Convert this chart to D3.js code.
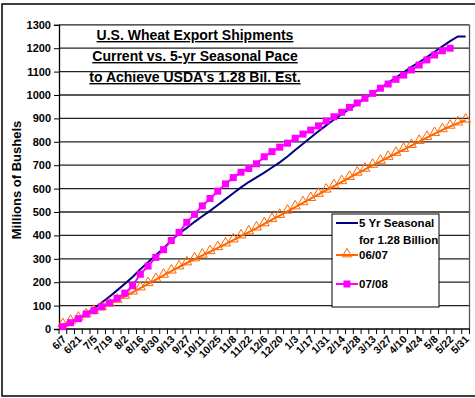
<!DOCTYPE html>
<html>
<head>
<meta charset="utf-8">
<script src="https://cdn.jsdelivr.net/npm/d3@7"></script>
<style>
  body { margin: 0; background: #fff; }
  svg { display: block; font-family: "Liberation Sans", Arial, sans-serif; }
</style>
</head>
<body>
<svg id="chart" width="475" height="398"></svg>
<script>
// weekly dates, Jun 2007 - May 2008
const weeks = ["6/7","6/14","6/21","6/28","7/5","7/12","7/19","7/26","8/2","8/9","8/16","8/23","8/30",
  "9/6","9/13","9/20","9/27","10/4","10/11","10/18","10/25","11/1","11/8","11/15","11/22","11/29",
  "12/6","12/13","12/20","12/27","1/3","1/10","1/17","1/24","1/31","2/7","2/14","2/21","2/28",
  "3/6","3/13","3/20","3/27","4/3","4/10","4/17","4/24","5/1","5/8","5/15","5/22","5/29","5/31"];

const seasonal = [8,25,45,65,88,112,138,165,193,222,255,285,315,345,378,408,432,458,482,505,530,555,
  580,605,628,648,668,690,712,737,765,792,818,845,870,895,918,940,962,985,1007,1030,1052,1075,1097,
  1120,1140,1162,1185,1208,1230,1250,1250];

const y0607 = [18,32,46,60,75,90,106,122,139,157,175,193,211,229,247,265,282,299,315,330,347,363,
  380,397,414,431,449,467,485,503,521,539,557,575,593,611,629,647,665,682,699,716,733,750,767,784,
  801,818,835,851,866,880,892];

const y0708 = [10,27,44,64,78,95,112,131,153,185,234,269,306,339,378,413,456,490,526,558,589,620,
  647,670,686,706,736,758,777,794,815,833,850,868,889,907,926,947,966,986,1007,1029,1047,1067,1085,
  1107,1128,1150,1171,1189,1200];

const yTicks = d3.range(0, 1301, 100);
const titleLines = ["U.S. Wheat Export Shipments", "Current vs. 5-yr Seasonal Pace", "to Achieve USDA's 1.28 Bil. Est."];

const svg = d3.select("#chart");
const L = 59, R = 469.5, T = 24.8, B = 329;

const x = d3.scaleBand().domain(weeks).range([L, R]).padding(0);
const y = d3.scaleLinear().domain([0, 1300]).range([B, T]);
const cx = d => x(d) + x.bandwidth() / 2;

// outer frame
svg.append("rect").attr("x", 2).attr("y", 4).attr("width", 490).attr("height", 392)
   .attr("fill", "none").attr("stroke", "#000").attr("stroke-width", 1.5);

// gridlines
svg.append("g").selectAll("line").data(yTicks.filter(v => v > 0)).enter().append("line")
   .attr("x1", L).attr("x2", R).attr("y1", d => y(d)).attr("y2", d => y(d))
   .attr("stroke", "#222").attr("stroke-width", 1.3);

// plot border right
svg.append("line").attr("x1", R).attr("x2", R).attr("y1", T).attr("y2", B)
   .attr("stroke", "#555").attr("stroke-width", 1.3);

// y axis
const yAxis = svg.append("g").attr("transform", `translate(${L},0)`)
   .call(d3.axisLeft(y).tickValues(yTicks).tickSize(5).tickPadding(3).tickFormat(d3.format("d")));
yAxis.select(".domain").attr("stroke", "#000").attr("stroke-width", 1.3);
yAxis.selectAll("line").attr("stroke", "#000");
yAxis.selectAll("text").attr("font-size", 11).attr("font-weight", "bold").attr("fill", "#000")
   .attr("font-family", "Liberation Sans, Arial, sans-serif");

// x axis: ticks between categories
const xg = svg.append("g");
xg.append("line").attr("x1", L).attr("x2", R).attr("y1", B).attr("y2", B)
  .attr("stroke", "#000").attr("stroke-width", 1.5);
xg.selectAll("line.tk").data(weeks.concat(["end"])).enter().append("line").attr("class", "tk")
  .attr("x1", (d, i) => L + i * x.bandwidth()).attr("x2", (d, i) => L + i * x.bandwidth())
  .attr("y1", B).attr("y2", B + 5).attr("stroke", "#000");
xg.selectAll("text").data(weeks.filter((d, i) => i % 2 === 0)).enter().append("text")
  .attr("transform", d => `translate(${cx(d) + 2},${B + 9}) rotate(-45)`)
  .attr("text-anchor", "end").attr("dominant-baseline", "middle")
  .attr("font-size", 10.5).attr("font-weight", "bold").text(d => d);

// series
const line = d3.line().x((d, i) => cx(weeks[i])).y(d => y(d));

svg.append("path").datum(seasonal).attr("d", line)
   .attr("fill", "none").attr("stroke", "#000080").attr("stroke-width", 2);

svg.append("path").datum(y0607).attr("d", line)
   .attr("fill", "none").attr("stroke", "#FF6600").attr("stroke-width", 2);
const tri = d3.symbol().type(d3.symbolTriangle).size(42);
svg.append("g").selectAll("path").data(y0607).enter().append("path")
   .attr("d", tri).attr("transform", (d, i) => `translate(${cx(weeks[i])},${y(d) - 1})`)
   .attr("fill", "none").attr("stroke", "#FF6600").attr("stroke-width", 1);

svg.append("path").datum(y0708).attr("d", line)
   .attr("fill", "none").attr("stroke", "#FF00FF").attr("stroke-width", 2);
svg.append("g").selectAll("rect").data(y0708).enter().append("rect")
   .attr("x", (d, i) => cx(weeks[i]) - 3.5).attr("y", d => y(d) - 3.5)
   .attr("width", 7).attr("height", 7).attr("fill", "#FF00FF");

// title
svg.append("g").selectAll("text").data(titleLines).enter().append("text")
   .attr("x", 195).attr("y", (d, i) => 40 + i * 21)
   .attr("text-anchor", "middle").attr("font-size", 14).attr("font-weight", "bold")
   .attr("text-decoration", "underline").text(d => d);

// y axis title
svg.append("text").attr("transform", "translate(21,180) rotate(-90)")
   .attr("text-anchor", "middle").attr("font-size", 13).attr("font-weight", "bold")
   .text("Millions of Bushels");

// legend
const lg = svg.append("g");
lg.append("rect").attr("x", 332).attr("y", 214).attr("width", 107).attr("height", 93)
  .attr("fill", "#fff").attr("stroke", "#000").attr("stroke-width", 1);
const legendItems = [
  { y: 223, color: "#000080", label: ["5 Yr Seasonal", "for 1.28 Billion"], marker: null },
  { y: 255, color: "#FF6600", label: ["06/07"], marker: "tri" },
  { y: 284, color: "#FF00FF", label: ["07/08"], marker: "sq" }
];
legendItems.forEach(it => {
  lg.append("line").attr("x1", 336).attr("x2", 358).attr("y1", it.y).attr("y2", it.y)
    .attr("stroke", it.color).attr("stroke-width", 2);
  if (it.marker === "tri") {
    lg.append("path").attr("d", tri).attr("transform", `translate(347,${it.y - 1})`)
      .attr("fill", "none").attr("stroke", it.color);
  } else if (it.marker === "sq") {
    lg.append("rect").attr("x", 343.5).attr("y", it.y - 3.5).attr("width", 7).attr("height", 7)
      .attr("fill", it.color);
  }
  it.label.forEach((t, j) => {
    lg.append("text").attr("x", 359).attr("y", it.y + 4 + j * 17)
      .attr("font-size", 11.5).attr("font-weight", "bold").text(t);
  });
});
</script>
</body>
</html>
